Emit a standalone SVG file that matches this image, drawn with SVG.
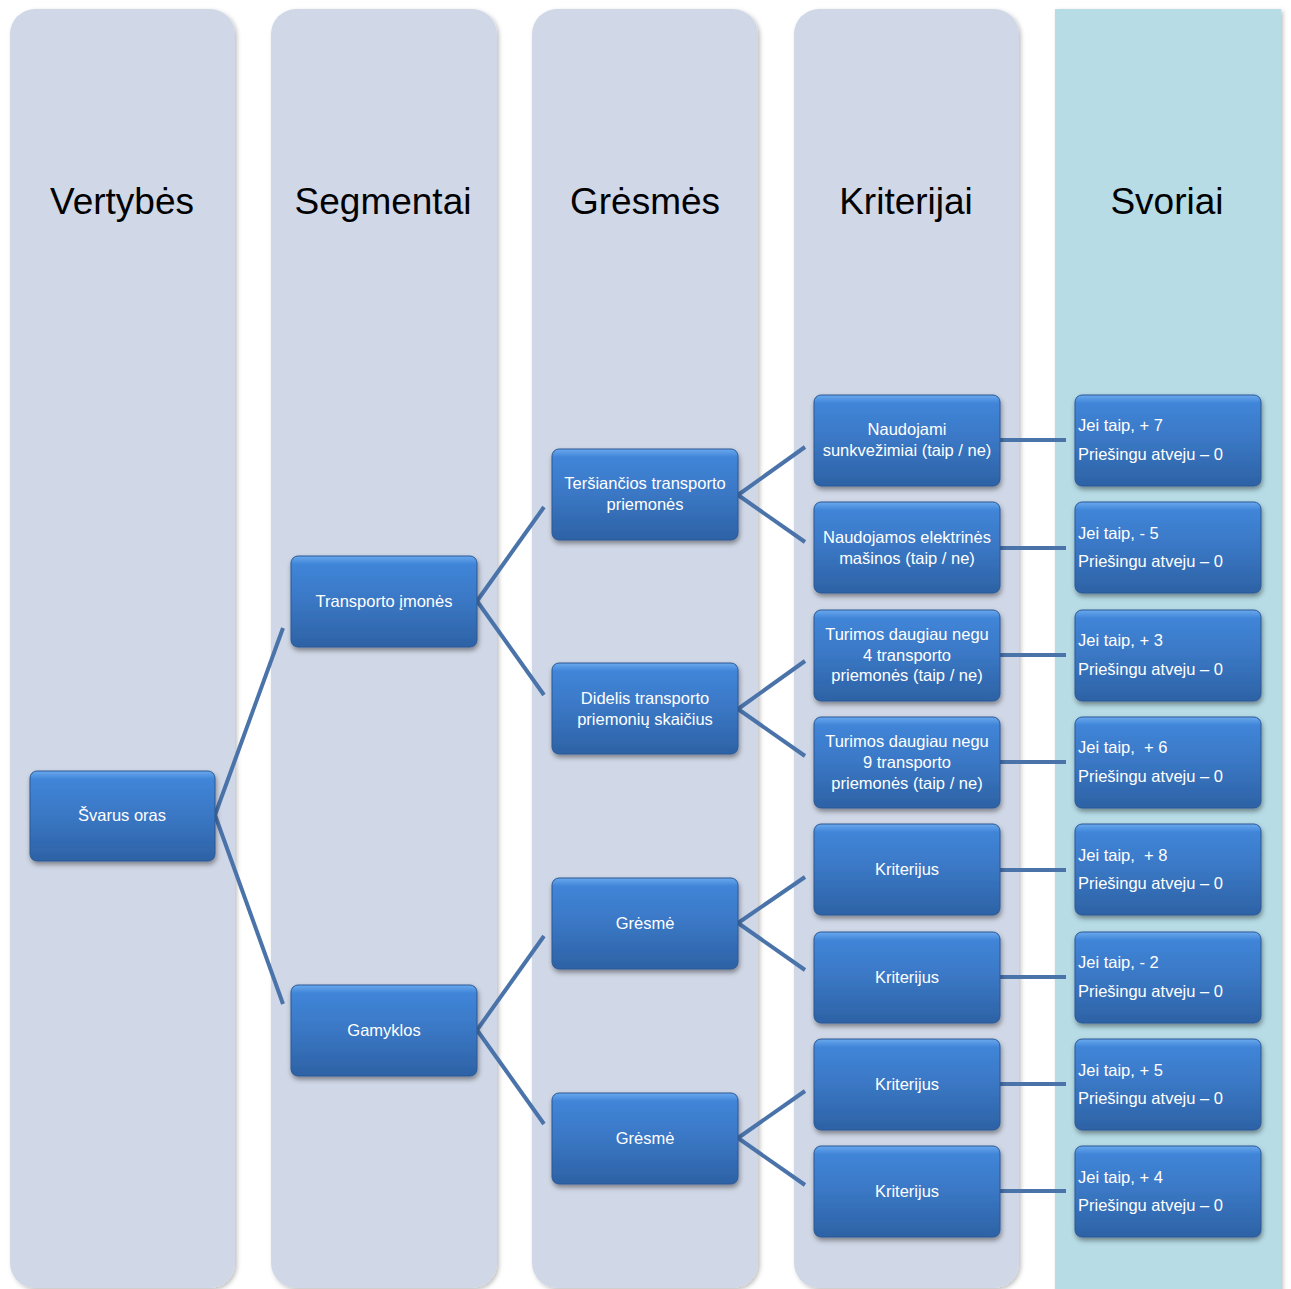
<svg xmlns="http://www.w3.org/2000/svg" width="1291" height="1289" viewBox="0 0 1291 1289">
<defs>
<linearGradient id="nodeGrad" x1="0" y1="0" x2="0" y2="1">
<stop offset="0" stop-color="#6aa9ee"/>
<stop offset="0.09" stop-color="#4085d8"/>
<stop offset="0.5" stop-color="#3a77c4"/>
<stop offset="1" stop-color="#2d62a5"/>
</linearGradient>
<filter id="colShadow" x="-5%" y="-2%" width="112%" height="106%">
<feDropShadow dx="2" dy="2" stdDeviation="2" flood-color="#000" flood-opacity="0.25"/>
</filter>
<filter id="nodeShadow" x="-10%" y="-10%" width="125%" height="135%">
<feDropShadow dx="1" dy="3" stdDeviation="2.5" flood-color="#000" flood-opacity="0.4"/>
</filter>
</defs>
<style>
.col{fill:#d0d7e6;filter:url(#colShadow)}
.colw{fill:#b7dce6;filter:url(#colShadow)}
.hdr{font-family:"Liberation Sans","DejaVu Sans",sans-serif;font-size:37px;fill:#000;text-anchor:middle}
.node rect{fill:url(#nodeGrad);stroke:#2a5896;stroke-width:1;filter:url(#nodeShadow)}
.t{font-family:"Liberation Sans","DejaVu Sans",sans-serif;font-size:16.5px;fill:#fff;text-anchor:middle}
.w{font-family:"Liberation Sans","DejaVu Sans",sans-serif;font-size:16.5px;fill:#fff;text-anchor:start}
.conn line{stroke:#4a73aa;stroke-width:4;stroke-linecap:butt}
</style>
<rect width="1291" height="1289" fill="#fff"/>
<g id="columns">
<path class="col" d="M10,34 a25,25 0 0 1 25,-25 h175 a25,25 0 0 1 25,25 V1263 a25,25 0 0 1 -25,25 H35 a25,25 0 0 1 -25,-25 Z"/>
<path class="col" d="M271,34 a25,25 0 0 1 25,-25 h176 a25,25 0 0 1 25,25 V1263 a25,25 0 0 1 -25,25 H296 a25,25 0 0 1 -25,-25 Z"/>
<path class="col" d="M532,34 a25,25 0 0 1 25,-25 h176 a25,25 0 0 1 25,25 V1263 a25,25 0 0 1 -25,25 H557 a25,25 0 0 1 -25,-25 Z"/>
<path class="col" d="M794,34 a25,25 0 0 1 25,-25 h175 a25,25 0 0 1 25,25 V1263 a25,25 0 0 1 -25,25 H819 a25,25 0 0 1 -25,-25 Z"/>
<rect class="colw" x="1055" y="9" width="226" height="1290"/>
<text class="hdr" x="122" y="214">Vertybės</text>
<text class="hdr" x="383" y="214">Segmentai</text>
<text class="hdr" x="645" y="214">Grėsmės</text>
<text class="hdr" x="906" y="214">Kriterijai</text>
<text class="hdr" x="1167" y="214">Svoriai</text>
</g>
<g id="connectors" class="conn">
<line x1="215" y1="815" x2="283" y2="628"/>
<line x1="215" y1="815" x2="283" y2="1004"/>
<line x1="477" y1="601" x2="544" y2="507"/>
<line x1="477" y1="601" x2="544" y2="695"/>
<line x1="477" y1="1030" x2="544" y2="936"/>
<line x1="477" y1="1030" x2="544" y2="1124"/>
<line x1="738" y1="495" x2="805" y2="447"/>
<line x1="738" y1="495" x2="805" y2="542"/>
<line x1="738" y1="709" x2="805" y2="661"/>
<line x1="738" y1="709" x2="805" y2="756"/>
<line x1="738" y1="923" x2="805" y2="877"/>
<line x1="738" y1="923" x2="805" y2="970"/>
<line x1="738" y1="1138" x2="805" y2="1091"/>
<line x1="738" y1="1138" x2="805" y2="1185"/>
<line x1="1000" y1="440" x2="1066" y2="440"/>
<line x1="1000" y1="548" x2="1066" y2="548"/>
<line x1="1000" y1="655" x2="1066" y2="655"/>
<line x1="1000" y1="762" x2="1066" y2="762"/>
<line x1="1000" y1="870" x2="1066" y2="870"/>
<line x1="1000" y1="977" x2="1066" y2="977"/>
<line x1="1000" y1="1084" x2="1066" y2="1084"/>
<line x1="1000" y1="1191" x2="1066" y2="1191"/>
</g>
<g id="n-svarus" class="node"><rect x="30" y="771" width="185" height="90" rx="7"/><text class="t" x="122" y="821">Švarus oras</text></g>
<g id="n-transporto" class="node"><rect x="291" y="556" width="186" height="91" rx="7"/><text class="t" x="384" y="607">Transporto įmonės</text></g>
<g id="n-gamyklos" class="node"><rect x="291" y="985" width="186" height="91" rx="7"/><text class="t" x="384" y="1036">Gamyklos</text></g>
<g id="n-tersiancios" class="node"><rect x="552" y="449" width="186" height="91" rx="7"/><text class="t" x="645" y="489">Teršiančios transporto</text><text class="t" x="645" y="510">priemonės</text></g>
<g id="n-didelis" class="node"><rect x="552" y="663" width="186" height="91" rx="7"/><text class="t" x="645" y="704">Didelis transporto</text><text class="t" x="645" y="725">priemonių skaičius</text></g>
<g id="n-gresme1" class="node"><rect x="552" y="878" width="186" height="91" rx="7"/><text class="t" x="645" y="929">Grėsmė</text></g>
<g id="n-gresme2" class="node"><rect x="552" y="1093" width="186" height="91" rx="7"/><text class="t" x="645" y="1144">Grėsmė</text></g>
<g id="n-k1" class="node"><rect x="814" y="395" width="186" height="91" rx="7"/><text class="t" x="907" y="435">Naudojami</text><text class="t" x="907" y="456">sunkvežimiai (taip / ne)</text></g>
<g id="n-k2" class="node"><rect x="814" y="502" width="186" height="91" rx="7"/><text class="t" x="907" y="543">Naudojamos elektrinės</text><text class="t" x="907" y="564">mašinos (taip / ne)</text></g>
<g id="n-k3" class="node"><rect x="814" y="610" width="186" height="91" rx="7"/><text class="t" x="907" y="640">Turimos daugiau negu</text><text class="t" x="907" y="661">4 transporto</text><text class="t" x="907" y="681">priemonės (taip / ne)</text></g>
<g id="n-k4" class="node"><rect x="814" y="717" width="186" height="91" rx="7"/><text class="t" x="907" y="747">Turimos daugiau negu</text><text class="t" x="907" y="768">9 transporto</text><text class="t" x="907" y="789">priemonės (taip / ne)</text></g>
<g id="n-k5" class="node"><rect x="814" y="824" width="186" height="91" rx="7"/><text class="t" x="907" y="875">Kriterijus</text></g>
<g id="n-k6" class="node"><rect x="814" y="932" width="186" height="91" rx="7"/><text class="t" x="907" y="983">Kriterijus</text></g>
<g id="n-k7" class="node"><rect x="814" y="1039" width="186" height="91" rx="7"/><text class="t" x="907" y="1090">Kriterijus</text></g>
<g id="n-k8" class="node"><rect x="814" y="1146" width="186" height="91" rx="7"/><text class="t" x="907" y="1197">Kriterijus</text></g>
<g id="n-s1" class="node"><rect x="1075" y="395" width="186" height="91" rx="7"/><text class="w" x="1078" y="431">Jei taip, + 7</text><text class="w" x="1078" y="460">Priešingu atveju – 0</text></g>
<g id="n-s2" class="node"><rect x="1075" y="502" width="186" height="91" rx="7"/><text class="w" x="1078" y="539">Jei taip, - 5</text><text class="w" x="1078" y="567">Priešingu atveju – 0</text></g>
<g id="n-s3" class="node"><rect x="1075" y="610" width="186" height="91" rx="7"/><text class="w" x="1078" y="646">Jei taip, + 3</text><text class="w" x="1078" y="675">Priešingu atveju – 0</text></g>
<g id="n-s4" class="node"><rect x="1075" y="717" width="186" height="91" rx="7"/><text class="w" x="1078" y="753" xml:space="preserve">Jei taip,  + 6</text><text class="w" x="1078" y="782">Priešingu atveju – 0</text></g>
<g id="n-s5" class="node"><rect x="1075" y="824" width="186" height="91" rx="7"/><text class="w" x="1078" y="861" xml:space="preserve">Jei taip,  + 8</text><text class="w" x="1078" y="889">Priešingu atveju – 0</text></g>
<g id="n-s6" class="node"><rect x="1075" y="932" width="186" height="91" rx="7"/><text class="w" x="1078" y="968">Jei taip, - 2</text><text class="w" x="1078" y="997">Priešingu atveju – 0</text></g>
<g id="n-s7" class="node"><rect x="1075" y="1039" width="186" height="91" rx="7"/><text class="w" x="1078" y="1076">Jei taip, + 5</text><text class="w" x="1078" y="1104">Priešingu atveju – 0</text></g>
<g id="n-s8" class="node"><rect x="1075" y="1146" width="186" height="91" rx="7"/><text class="w" x="1078" y="1183">Jei taip, + 4</text><text class="w" x="1078" y="1211">Priešingu atveju – 0</text></g>
</svg>
